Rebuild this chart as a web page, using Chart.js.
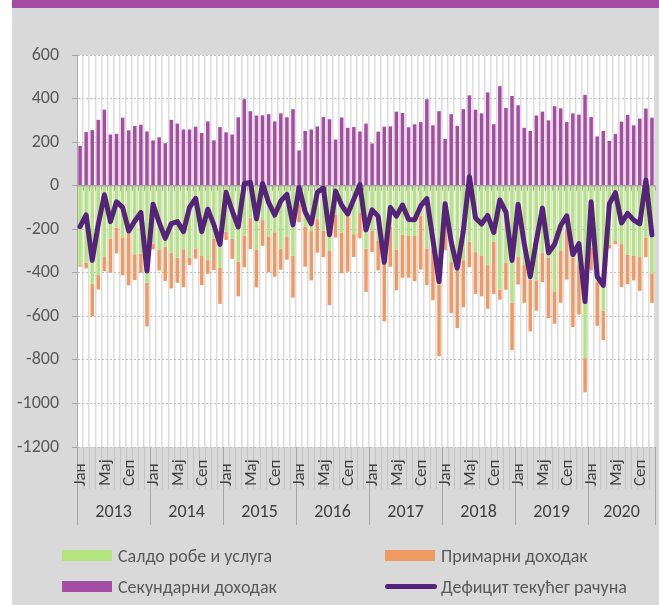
<!DOCTYPE html>
<html>
<head>
<meta charset="utf-8">
<script src="https://cdn.jsdelivr.net/npm/chart.js@4.4.1/dist/chart.umd.min.js"></script>
<style>
  html, body { margin: 0; padding: 0; background: #ffffff; }
  body { width: 659px; height: 605px; position: relative; overflow: hidden; font-family: Carlito, "Open Sans", sans-serif; }
  .band { position: absolute; left: 12px; top: 0; width: 647px; height: 8px; background: #a54ca3; }
  .panel { position: absolute; left: 12px; top: 8px; width: 647px; height: 597px; background: #d9d9d9; }
  canvas { position: absolute; left: 0; top: 0; }
  .legend-item { position: absolute; font-size: 18px; color: #595959; line-height: 22px; white-space: nowrap; }
  .legend-item .box { position: absolute; left: -56px; top: 5px; width: 50px; height: 11px; }
  .legend-item .ln { position: absolute; left: -56px; top: 8px; width: 52px; height: 5px; border-radius: 3px; }
</style>
</head>
<body>
<div class="band"></div>
<div class="panel"></div>
<canvas id="bop-chart" width="659" height="605"></canvas>

<div class="legend-item" style="left:118px; top:545px;"><span class="box" style="background:#b3e47d"></span>Салдо робе и услуга</div>
<div class="legend-item" style="left:441px; top:545px;"><span class="box" style="background:#ef9a62"></span>Примарни доходак</div>
<div class="legend-item" style="left:118px; top:576px;"><span class="box" style="background:#a54ca3"></span>Секундарни доходак</div>
<div class="legend-item" style="left:441px; top:576px;"><span class="ln" style="background:#55237a"></span>Дефицит текућег рачуна</div>

<script>
// data, in mln EUR, monthly Jan 2013 - Nov 2020
const years = ["2013", "2014", "2015", "2016", "2017", "2018", "2019", "2020"];
const monthNames = ["Јан", "Феб", "Мар", "Апр", "Мај", "Јун", "Јул", "Авг", "Сеп", "Окт", "Нов", "Дец"];
const shownMonths = ["Јан", "Мај", "Сеп"];
const monthsInLastYear = 11;

const yTicks = [600, 400, 200, 0, -200, -400, -600, -800, -1000, -1200];

const goodsServices = [
  -365, -354, -451, -408, -328, -243, -192, -238, -215, -315, -312, -446,
  -266, -295, -280, -309, -331, -292, -331, -288, -323, -342, -243, -378,
  -210, -244, -348, -229, -149, -293, -158, -233, -214, -290, -233, -321,
  -83, -188, -205, -154, -208, -300, -134, -215, -142, -223, -126, -289,
  -205, -254, -357, -188, -294, -225, -231, -231, -138, -288, -292, -454,
  -177, -351, -389, -342, -258, -305, -323, -365, -258, -477, -354, -538,
  -328, -365, -431, -435, -308, -331, -485, -300, -200, -331, -362, -792,
  -285, -442, -574, -272, -254, -266, -318, -323, -328, -238, -402
];

const primaryIncome = [
  -7, -26, -149, -69, -64, -157, -119, -174, -243, -119, -88, -200,
  -26, -94, -158, -163, -115, -174, -34, -47, -134, -63, -145, -165,
  -40, -92, -160, -146, -143, -174, -118, -165, -204, -96, -107, -193,
  -85, -184, -230, -154, -120, -249, -104, -187, -253, -105, -116, -199,
  -100, -135, -266, -184, -186, -198, -192, -207, -247, -169, -234, -329,
  -120, -234, -265, -216, -116, -192, -185, -200, -239, -46, -124, -217,
  -126, -173, -238, -139, -135, -277, -149, -238, -231, -318, -230, -157,
  -104, -201, -135, -17, -15, -199, -134, -112, -155, -90, -136
];

const secondaryIncome = [
  183, 246, 255, 302, 349, 235, 238, 312, 254, 274, 280, 249,
  208, 222, 195, 302, 285, 258, 258, 271, 242, 295, 208, 269,
  245, 235, 314, 397, 342, 322, 323, 328, 295, 332, 314, 351,
  162, 251, 258, 272, 315, 305, 212, 313, 266, 269, 249, 285,
  194, 248, 271, 272, 340, 334, 268, 282, 292, 397, 277, 342,
  214, 328, 275, 351, 415, 349, 332, 428, 282, 457, 357, 412,
  369, 266, 251, 322, 340, 300, 365, 355, 292, 332, 326, 417,
  315, 226, 251, 206, 237, 294, 325, 277, 308, 354, 312
];

const currentAccount = [
  -188, -134, -343, -177, -42, -165, -74, -100, -208, -162, -123, -392,
  -85, -169, -242, -174, -165, -211, -100, -58, -211, -108, -180, -270,
  -30, -115, -190, 10, 15, -152, 10, -78, -135, -70, -40, -180,
  -8, -120, -175, -30, -10, -225, -25, -90, -130, -62, 5, -203,
  -111, -141, -352, -100, -140, -89, -155, -156, -93, -60, -249, -441,
  -83, -257, -379, -207, 41, -148, -176, -137, -215, -66, -121, -343,
  -85, -265, -418, -252, -103, -308, -269, -183, -139, -317, -266, -532,
  -74, -417, -458, -83, -32, -171, -127, -158, -175, 26, -226
];

// category labels: month + year
const labels = [];
years.forEach((y, yi) => {
  const count = yi === years.length - 1 ? monthsInLastYear : 12;
  for (let m = 0; m < count; m++) labels.push(monthNames[m] + " " + y);
});

const plotBg = {
  id: "plotBg",
  beforeDraw(chart) {
    const { ctx, chartArea } = chart;
    ctx.save();
    ctx.fillStyle = "#ffffff";
    ctx.fillRect(chartArea.left, chartArea.top, chartArea.right - chartArea.left, chartArea.bottom - chartArea.top);
    ctx.restore();
  }
};

// zero axis with its small tick marks, drawn over the bars but under the line
const zeroAxis = {
  id: "zeroAxis",
  afterDatasetDraw(chart, args) {
    if (args.index !== 0) return;
    const { ctx, chartArea, scales } = chart;
    const y0 = scales.y.getPixelForValue(0);
    const step = scales.x.getPixelForValue(1) - scales.x.getPixelForValue(0);
    ctx.save();
    ctx.strokeStyle = "#a6a6a6";
    ctx.lineWidth = 1.5;
    ctx.beginPath();
    ctx.moveTo(chartArea.left, y0);
    ctx.lineTo(chartArea.right, y0);
    ctx.stroke();
    ctx.lineWidth = 1;
    ctx.beginPath();
    for (let i = 0; i <= labels.length; i++) {
      const x = Math.round(scales.x.getPixelForValue(i) - step / 2) + 0.5;
      ctx.moveTo(x, y0);
      ctx.lineTo(x, y0 + 5);
    }
    ctx.stroke();
    ctx.restore();
  }
};

// two level category axis: months, then years
const monthYearAxis = {
  id: "monthYearAxis",
  afterDraw(chart) {
    const { ctx, chartArea, scales } = chart;
    const xs = scales.x;
    const step = xs.getPixelForValue(1) - xs.getPixelForValue(0);
    const bottom = chartArea.bottom;
    ctx.save();

    ctx.strokeStyle = "#c3c3c3";
    ctx.lineWidth = 1;
    ctx.beginPath();
    for (let i = 0; i <= labels.length; i++) {
      const x = Math.round(xs.getPixelForValue(i) - step / 2) + 0.5;
      ctx.moveTo(x, bottom);
      ctx.lineTo(x, bottom + 42);
    }
    ctx.stroke();

    ctx.strokeStyle = "#a6a6a6";
    ctx.beginPath();
    let start = 0;
    const yearBounds = [];
    years.forEach((y, yi) => {
      const count = yi === years.length - 1 ? monthsInLastYear : 12;
      yearBounds.push([start, start + count]);
      start += count;
    });
    yearBounds.forEach(([a, b]) => {
      [a, b].forEach((i) => {
        const x = Math.round(xs.getPixelForValue(i) - step / 2) + 0.5;
        ctx.moveTo(x, bottom);
        ctx.lineTo(x, bottom + 78);
      });
    });
    ctx.stroke();

    ctx.fillStyle = "#404040";
    ctx.font = "17px Carlito, 'Open Sans', sans-serif";
    ctx.textAlign = "left";
    ctx.textBaseline = "middle";
    labels.forEach((lab, i) => {
      const m = lab.split(" ")[0];
      if (!shownMonths.includes(m)) return;
      const x = xs.getPixelForValue(i);
      ctx.save();
      ctx.translate(x + 1, bottom + 39);
      ctx.rotate(-Math.PI / 2);
      ctx.fillText(m, 0, 0);
      ctx.restore();
    });

    ctx.font = "18px Carlito, 'Open Sans', sans-serif";
    ctx.textAlign = "center";
    yearBounds.forEach(([a, b], yi) => {
      const x = (xs.getPixelForValue(a) + xs.getPixelForValue(b - 1)) / 2;
      ctx.fillText(years[yi], x, bottom + 65);
    });
    ctx.restore();
  }
};

new Chart(document.getElementById("bop-chart"), {
  type: "bar",
  data: {
    labels: labels,
    datasets: [
      {
        label: "Салдо робе и услуга",
        data: goodsServices,
        backgroundColor: "#b3e47d",
        stack: "bop",
        order: 1,
        barPercentage: 0.58,
        categoryPercentage: 1
      },
      {
        label: "Примарни доходак",
        data: primaryIncome,
        backgroundColor: "#ef9a62",
        stack: "bop",
        order: 1,
        barPercentage: 0.58,
        categoryPercentage: 1
      },
      {
        label: "Секундарни доходак",
        data: secondaryIncome,
        backgroundColor: "#a54ca3",
        stack: "bop",
        order: 1,
        barPercentage: 0.58,
        categoryPercentage: 1
      },
      {
        type: "line",
        label: "Дефицит текућег рачуна",
        data: currentAccount,
        borderColor: "#55237a",
        borderWidth: 5,
        pointRadius: 0,
        tension: 0,
        borderJoinStyle: "round",
        borderCapStyle: "round",
        stack: "line",
        order: 0
      }
    ]
  },
  options: {
    responsive: false,
    animation: false,
    devicePixelRatio: 1,
    layout: { padding: { left: 0, top: 55, right: 4, bottom: 158 } },
    plugins: {
      legend: { display: false },
      tooltip: { enabled: false }
    },
    scales: {
      x: {
        stacked: true,
        ticks: { display: false },
        grid: { offset: true, color: "#dcdcdc", lineWidth: 1.5, drawTicks: false },
        border: { display: false },
        afterFit: (s) => { s.height = 0; }
      },
      y: {
        stacked: true,
        min: yTicks[yTicks.length - 1],
        max: yTicks[0],
        afterBuildTicks: (s) => { s.ticks = yTicks.map((v) => ({ value: v })); },
        ticks: {
          color: "#595959",
          font: { family: "Carlito, 'Open Sans', sans-serif", size: 18 },
          padding: 13,
          callback: (v) => String(v)
        },
        grid: {
          color: (c) => (c.tick && c.tick.value === 0 ? "rgba(0,0,0,0)" : "#bfbfbf"),
          lineWidth: 1,
          tickLength: 5,
          tickColor: "#a6a6a6"
        },
        border: { display: true, color: "#a6a6a6", width: 1, dash: [2, 2] },
        afterFit: (s) => { s.width = 77; }
      }
    }
  },
  plugins: [plotBg, zeroAxis, monthYearAxis]
});
</script>
</body>
</html>
